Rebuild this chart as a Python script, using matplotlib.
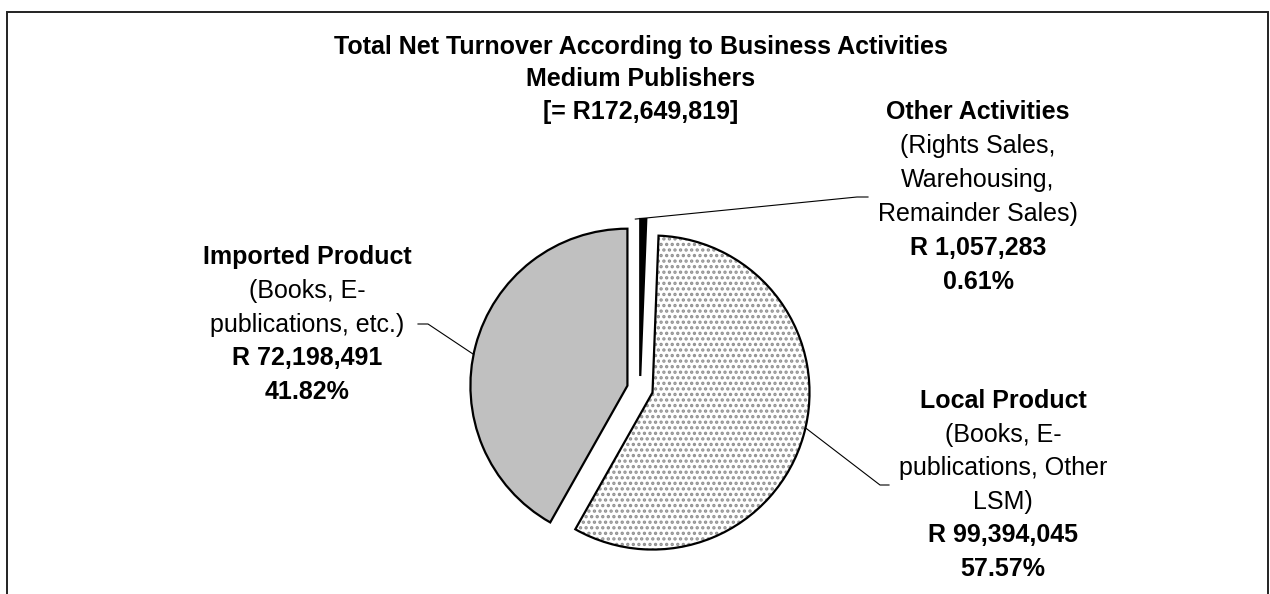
import numpy as np
import matplotlib
matplotlib.use('Agg')
import matplotlib.pyplot as plt
import matplotlib.patches as mpatches

plt.rcParams['font.family'] = ['Liberation Sans', 'DejaVu Sans']
plt.rcParams['hatch.linewidth'] = 1.6

# data
names = ['Other Activities', 'Local Product', 'Imported Product']
details = [
    ['(Rights Sales,', 'Warehousing,', 'Remainder Sales)'],
    ['(Books, E-', 'publications, Other', 'LSM)'],
    ['(Books, E-', 'publications, etc.)'],
]
values = [1057283, 99394045, 72198491]
title_lines = ['Total Net Turnover According to Business Activities',
               'Medium Publishers']

W, H = 1270, 594
total = sum(values)
pcts = [v / total * 100 for v in values]

fig = plt.figure(figsize=(W / 100, H / 100), dpi=100)
ax = fig.add_axes([0, 0, 1, 1])

# pie in pixel-like coordinates (y measured from bottom)
cx, cy, r = 640, H - 389, 157
wedges, _ = ax.pie(values, colors=['black', 'white', '#c0c0c0'],
                   startangle=90, counterclock=False,
                   explode=[13, 13, 13], radius=r, center=(cx, cy),
                   wedgeprops=dict(edgecolor='black', linewidth=1.6))

# dotted fill for the local product slice
loc = wedges[1]
loc.set_edgecolor('#909090')
loc.set_linewidth(0)
loc.set_hatch('...')
ax.add_patch(mpatches.Wedge(loc.center, loc.r, loc.theta1, loc.theta2,
                            facecolor='none', edgecolor='black',
                            linewidth=1.6, zorder=2))

ax.set_xlim(0, W)
ax.set_ylim(0, H)
ax.set_aspect('equal')
ax.axis('off')

# outer frame (bottom edge is cut off in the original)
ax.plot([7, 7, 1268, 1268], [-5, H - 12, H - 12, -5], color='#222222',
        lw=1.4, solid_joinstyle='miter', clip_on=False)

fs = 18
# title
for i, t in enumerate(title_lines + [f'[= R{total:,}]']):
    ax.text(641, H - (47 + 32.5 * i), t, ha='center', va='center',
            fontsize=fs, fontweight='bold')

# labels: (x centre, first line y, line step) in pixels
label_pos = [(978, 112, 34), (1003, 401, 33.6), (307, 257, 33.8)]
for name, det, v, p, (lx, ly, step) in zip(names, details, values, pcts, label_pos):
    lines = [(name, 'bold')] + [(d, 'normal') for d in det] + \
            [(f'R {v:,}', 'bold'), (f'{p:.2f}%', 'bold')]
    for j, (t, wgt) in enumerate(lines):
        ax.text(lx, H - (ly + step * j), t, ha='center', va='center',
                fontsize=fs, fontweight=wgt)

# leader lines: from slice edge to label
leader_ang = [91.8, -13, 168.5]
elbows = [((857, 197), (868, 197)), ((880, 485), (889, 485)),
          ((428, 324), (418, 324))]
for w, a, (p1, p2) in zip(wedges, leader_ang, elbows):
    x0 = w.center[0] + w.r * np.cos(np.radians(a))
    y0 = w.center[1] + w.r * np.sin(np.radians(a))
    ax.plot([x0, p1[0], p2[0]], [y0, H - p1[1], H - p2[1]],
            color='black', lw=0.8, zorder=3)

fig.savefig('out.png', dpi=100)
